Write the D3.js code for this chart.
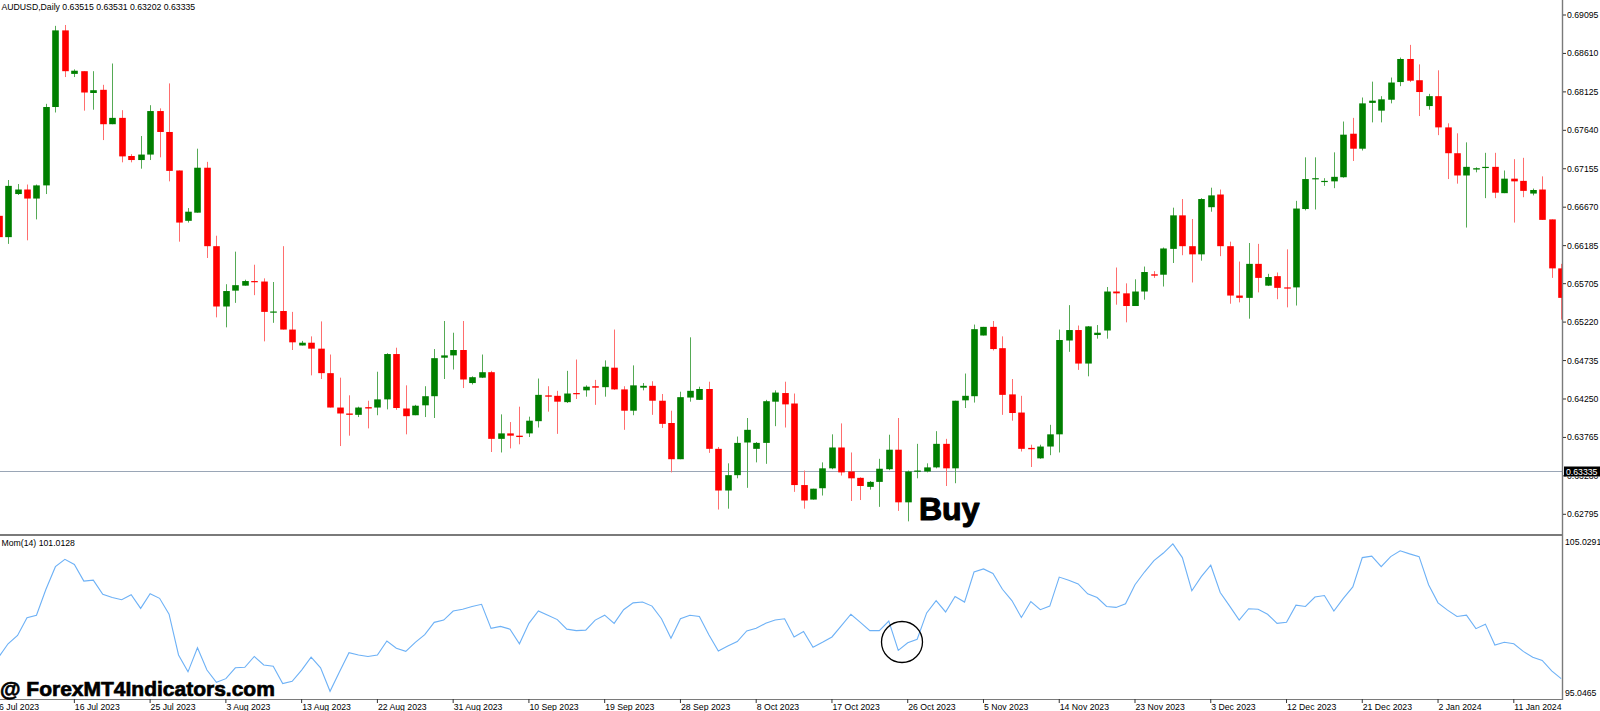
<!DOCTYPE html>
<html><head><meta charset="utf-8">
<script src="https://cdn.jsdelivr.net/npm/d3@7"></script>
<style>
body{margin:0;background:#fff;overflow:hidden}
svg{display:block}
text{font-family:"Liberation Sans",Arial,sans-serif}
</style>
</head><body>
<svg id="c" width="1600" height="711"></svg>
<script>
// ---------------- DATA ----------------
const header = "AUDUSD,Daily  0.63515 0.63531 0.63202 0.63335";
const momLabel = "Mom(14) 101.0128";
const dateLabels = ["6 Jul 2023","16 Jul 2023","25 Jul 2023","3 Aug 2023","13 Aug 2023","22 Aug 2023","31 Aug 2023","10 Sep 2023","19 Sep 2023","28 Sep 2023","8 Oct 2023","17 Oct 2023","26 Oct 2023","5 Nov 2023","14 Nov 2023","23 Nov 2023","3 Dec 2023","12 Dec 2023","21 Dec 2023","2 Jan 2024","11 Jan 2024"];
const labelEvery = 8; // bars between date labels
const priceTicks = [0.69095,0.68610,0.68125,0.67640,0.67155,0.66670,0.66185,0.65705,0.65220,0.64735,0.64250,0.63765,0.63280,0.62795];
const currentPrice = 0.63335;
const momAxisLabels = [105.0291, 95.0465];

const open = [
0.66561,0.66292,0.66836,0.66893,0.66779,0.66945,0.67934,0.68901,0.68352,0.68386,
0.68111,0.68151,0.67717,0.67797,0.67316,0.67265,0.67334,0.67883,0.67619,0.67133,
0.66498,0.66601,0.67168,0.66178,0.65417,0.65617,0.65680,0.65738,0.65732,0.65343,
0.65360,0.65126,0.64925,0.64960,0.64885,0.64576,0.64142,0.64067,0.64050,0.64147,
0.64142,0.64245,0.64817,0.64130,0.64045,0.64170,0.64285,0.64771,0.64800,0.64868,
0.64451,0.64519,0.64588,0.63747,0.63816,0.63787,0.63816,0.63970,0.64296,0.64290,
0.64210,0.64325,0.64359,0.64411,0.64399,0.64645,0.64371,0.64102,0.64393,0.64416,
0.64228,0.63947,0.63490,0.64268,0.64239,0.64376,0.63621,0.63095,0.63289,0.63701,
0.63621,0.63696,0.64216,0.64325,0.64193,0.63164,0.62981,0.63124,0.63375,0.63638,
0.63335,0.63255,0.63141,0.63204,0.63364,0.63610,0.62946,0.63335,0.63335,0.63387,
0.63684,0.63375,0.64233,0.64285,0.65051,0.65160,0.64891,0.64308,0.64079,0.63633,
0.63501,0.63650,0.63804,0.64988,0.65120,0.64697,0.65057,0.65114,0.65606,0.65583,
0.65423,0.65606,0.65823,0.65818,0.66144,0.66567,0.66178,0.66075,0.66670,0.66830,
0.66178,0.65555,0.65526,0.65955,0.65680,0.65800,0.65658,0.65658,0.66647,0.67025,
0.66990,0.66996,0.67048,0.67597,0.67408,0.67986,0.67888,0.68026,0.68249,0.68540,
0.68272,0.67946,0.68071,0.67677,0.67351,0.67070,0.67145,0.67168,0.67179,0.66847,
0.67030,0.67002,0.66842,0.66893,0.66516,0.65898];

const high = [
0.66596,0.67013,0.66962,0.66956,0.66956,0.67974,0.68958,0.68969,0.68409,0.68386,
0.68386,0.68214,0.68483,0.67894,0.67339,0.67568,0.67957,0.67917,0.68232,0.67133,
0.66659,0.67408,0.67242,0.66310,0.65698,0.66109,0.65755,0.65944,0.65772,0.65726,
0.66178,0.65349,0.64983,0.65040,0.65229,0.64811,0.64519,0.64296,0.64153,0.64228,
0.64594,0.64828,0.64897,0.64422,0.64176,0.64411,0.64880,0.65234,0.65086,0.65234,
0.64536,0.64811,0.64605,0.64056,0.63959,0.64153,0.64027,0.64508,0.64411,0.64353,
0.64605,0.64748,0.64422,0.64491,0.64737,0.65126,0.64411,0.64674,0.64451,0.64474,
0.64313,0.64102,0.64342,0.65028,0.64405,0.64468,0.63644,0.63438,0.63776,0.64010,
0.63707,0.64239,0.64359,0.64468,0.64319,0.63347,0.63118,0.63450,0.63804,0.63942,
0.63575,0.63261,0.63215,0.63495,0.63799,0.64010,0.63347,0.63684,0.63438,0.63844,
0.63747,0.64228,0.64571,0.65189,0.65160,0.65234,0.65040,0.64502,0.64290,0.63673,
0.63673,0.63924,0.65126,0.65434,0.65177,0.65171,0.65183,0.65663,0.65909,0.65709,
0.65760,0.65921,0.65863,0.66161,0.66664,0.66773,0.66521,0.66784,0.66916,0.66893,
0.66235,0.65984,0.66218,0.66207,0.65829,0.65846,0.66138,0.66750,0.67299,0.67299,
0.67036,0.67362,0.67751,0.67797,0.68054,0.68254,0.68071,0.68306,0.68558,0.68718,
0.68472,0.68100,0.68397,0.67728,0.67602,0.67488,0.67173,0.67356,0.67356,0.67133,
0.67276,0.67293,0.66905,0.67059,0.66516,0.65955];

const low = [
0.66281,0.66207,0.66824,0.66252,0.66516,0.66836,0.67865,0.68312,0.68312,0.67888,
0.67900,0.67517,0.67717,0.67236,0.67236,0.67156,0.67265,0.67299,0.66996,0.66235,
0.66476,0.66601,0.66029,0.65280,0.65154,0.65463,0.65680,0.65560,0.64977,0.65211,
0.65126,0.64868,0.64925,0.64548,0.64502,0.64142,0.63656,0.63787,0.64022,0.63879,
0.64045,0.64119,0.64113,0.63804,0.64045,0.64022,0.64010,0.64502,0.64622,0.64388,
0.64433,0.64514,0.63581,0.63575,0.63627,0.63678,0.63770,0.63890,0.64090,0.63810,
0.64199,0.64250,0.64279,0.64176,0.64279,0.64365,0.63861,0.64045,0.64359,0.64050,
0.63884,0.63324,0.63490,0.64216,0.64239,0.63570,0.62855,0.62866,0.63249,0.63129,
0.63450,0.63432,0.63907,0.63890,0.63078,0.62866,0.62981,0.63032,0.63364,0.63284,
0.62963,0.62975,0.63106,0.62889,0.63352,0.62838,0.62706,0.63249,0.63324,0.63375,
0.63152,0.63187,0.64136,0.64205,0.65051,0.64862,0.64050,0.63976,0.63587,0.63392,
0.63495,0.63541,0.63575,0.64845,0.64617,0.64536,0.65011,0.65011,0.65440,0.65217,
0.65423,0.65503,0.65778,0.65669,0.65966,0.66064,0.65720,0.65995,0.66613,0.66052,
0.65452,0.65469,0.65263,0.65595,0.65675,0.65509,0.65406,0.65429,0.66630,0.66641,
0.66939,0.66910,0.67042,0.67253,0.67385,0.67740,0.67740,0.67980,0.68197,0.68249,
0.67820,0.67900,0.67579,0.67025,0.66967,0.66413,0.67110,0.66784,0.66784,0.66847,
0.66476,0.66796,0.66819,0.66510,0.65778,0.65251];

const close = [
0.66292,0.66939,0.66893,0.66779,0.66945,0.67934,0.68901,0.68386,0.68392,0.68117,
0.68146,0.67717,0.67797,0.67311,0.67265,0.67334,0.67883,0.67619,0.67128,0.66476,
0.66613,0.67168,0.66178,0.65417,0.65612,0.65686,0.65738,0.65732,0.65349,0.65354,
0.65126,0.64965,0.64960,0.64885,0.64576,0.64142,0.64067,0.64050,0.64142,0.64130,
0.64245,0.64817,0.64136,0.64033,0.64165,0.64285,0.64765,0.64800,0.64868,0.64496,
0.64525,0.64588,0.63747,0.63816,0.63787,0.63770,0.63976,0.64302,0.64279,0.64216,
0.64319,0.64313,0.64405,0.64393,0.64657,0.64371,0.64102,0.64422,0.64416,0.64228,
0.63936,0.63490,0.64273,0.64353,0.64376,0.63621,0.63095,0.63289,0.63696,0.63861,
0.63696,0.64222,0.64331,0.64182,0.63164,0.62969,0.63118,0.63375,0.63638,0.63324,
0.63249,0.63152,0.63204,0.63370,0.63610,0.62946,0.63335,0.63347,0.63387,0.63684,
0.63375,0.64228,0.64290,0.65131,0.65160,0.64880,0.64302,0.64073,0.63621,0.63616,
0.63650,0.63804,0.64994,0.65120,0.64697,0.65166,0.65086,0.65606,0.65583,0.65423,
0.65606,0.65852,0.65806,0.66149,0.66567,0.66178,0.66075,0.66773,0.66819,0.66178,
0.65555,0.65526,0.65955,0.65778,0.65789,0.65652,0.65646,0.66653,0.67025,0.67036,
0.67002,0.67053,0.67585,0.67408,0.67980,0.68014,0.68031,0.68243,0.68540,0.68266,
0.68123,0.68071,0.67677,0.67351,0.67070,0.67179,0.67162,0.67179,0.66853,0.67030,
0.66996,0.66876,0.66887,0.66510,0.65898,0.65526];

const momentum = [
97.62,98.45,98.96,100.05,100.21,101.81,103.20,103.65,103.34,102.31,
102.37,101.50,101.30,101.16,101.47,100.63,101.53,101.25,100.27,97.76,
96.72,98.20,96.83,96.08,96.30,96.97,97.00,97.67,97.14,97.06,
96.00,96.14,96.83,97.62,96.97,95.52,96.72,97.90,97.76,97.67,
97.76,98.62,98.18,97.98,98.54,99.01,99.77,99.91,100.47,100.58,
100.75,100.88,99.40,99.52,99.35,98.45,99.71,100.47,100.21,99.94,
99.35,99.26,99.29,99.91,100.21,99.71,100.55,100.97,101.02,100.77,
99.99,98.79,99.99,100.21,100.13,99.01,98.01,98.31,98.59,99.24,
99.40,99.71,99.91,99.99,98.87,99.21,98.23,98.54,98.87,99.57,
100.27,99.77,99.26,99.26,99.85,98.04,98.51,98.73,100.35,101.11,
100.41,101.36,101.02,102.87,103.06,102.78,101.81,101.11,100.07,101.05,
100.55,100.77,102.56,102.37,102.14,101.53,101.30,100.75,100.69,100.91,
102.09,102.87,103.57,104.04,104.60,103.76,101.72,102.59,103.29,101.61,
100.77,99.91,100.61,100.58,100.27,99.71,99.77,100.83,100.75,101.33,
101.42,100.47,101.25,101.95,103.76,103.85,103.20,103.82,104.18,103.99,
103.82,102.09,100.97,100.52,100.13,100.21,99.38,99.66,98.37,98.54,
98.45,97.98,97.62,97.42,96.78,96.30];

// ---------------- LAYOUT ----------------
const axisX = 1562, sepY = 535, momTop = 537, momBottom = 699;
const svg = d3.select("#c");
const x = d3.scaleLinear().domain([0, 160]).range([-1.4, 1513.8]);
const y = d3.scaleLinear().domain([0.62795, 0.69095]).range([514.3, 15]);
const ym = d3.scaleLinear().domain([momAxisLabels[1], momAxisLabels[0]]).range([momBottom, momTop]);
const FS = 8.7;

const defs = svg.append("defs");
defs.append("clipPath").attr("id","cp1").append("rect").attr("x",0).attr("y",0).attr("width",axisX).attr("height",sepY-1);
defs.append("clipPath").attr("id","cp2").append("rect").attr("x",0).attr("y",momTop).attr("width",axisX).attr("height",momBottom-momTop);
// the hidden tick label is only visible below the current-price box
defs.append("clipPath").attr("id","cp3").append("rect").attr("x",axisX).attr("y",y(currentPrice)+5).attr("width",40).attr("height",10);

// current price line
svg.append("line").attr("x1",0).attr("x2",axisX).attr("y1",y(currentPrice)).attr("y2",y(currentPrice))
  .attr("stroke","#9aa6b6").attr("stroke-width",1);

// candles
const bars = d3.range(open.length).map(i => ({i, o:open[i], h:high[i], l:low[i], c:close[i]}));
const gC = svg.append("g").attr("clip-path","url(#cp1)");
const bw = 6.6;
gC.selectAll("line.w").data(bars).join("line").attr("class","w")
  .attr("x1",d=>Math.round(x(d.i))+0.5).attr("x2",d=>Math.round(x(d.i))+0.5)
  .attr("y1",d=>y(d.h)).attr("y2",d=>y(d.l))
  .attr("stroke",d=>d.c>=d.o?"#55aa55":"#ff6e6e").attr("stroke-width",1);
gC.selectAll("rect.b").data(bars).join("rect").attr("class","b")
  .attr("x",d=>Math.round(x(d.i))+0.5-bw/2).attr("width",bw)
  .attr("y",d=>Math.min(y(d.o),y(d.c)))
  .attr("height",d=>Math.max(1.2,Math.abs(y(d.o)-y(d.c))))
  .attr("fill",d=>d.c>=d.o?"#007f00":"#ff0000");

// frame lines
svg.append("line").attr("x1",axisX+0.5).attr("x2",axisX+0.5).attr("y1",0).attr("y2",momBottom+1).attr("stroke","#7a7a7a").attr("stroke-width",1.4);
svg.append("line").attr("x1",0).attr("x2",axisX).attr("y1",sepY).attr("y2",sepY).attr("stroke","#7a7a7a").attr("stroke-width",2.2);
svg.append("line").attr("x1",0).attr("x2",axisX+1).attr("y1",momBottom+0.5).attr("y2",momBottom+0.5).attr("stroke","#7a7a7a").attr("stroke-width",1.2);

// price axis
const gP = svg.append("g");
priceTicks.forEach(p => {
  const hidden = Math.abs(y(p) - y(currentPrice)) < 10;
  gP.append("line").attr("x1",axisX+1).attr("x2",axisX+4).attr("y1",y(p)).attr("y2",y(p)).attr("stroke","#333");
  gP.append("text").attr("x",axisX+5).attr("y",y(p)).attr("dominant-baseline","central")
    .attr("clip-path", hidden ? "url(#cp3)" : null)
    .attr("font-size",FS).attr("fill","#000").text(p.toFixed(5));
});
// current price box
gP.append("rect").attr("x",axisX+2).attr("y",y(currentPrice)-5).attr("width",38).attr("height",10).attr("fill","#000");
gP.append("text").attr("x",axisX+4).attr("y",y(currentPrice)).attr("dominant-baseline","central")
  .attr("font-size",FS).attr("fill","#fff").text(currentPrice.toFixed(5));

// momentum
const gM = svg.append("g").attr("clip-path","url(#cp2)");
gM.append("path").datum(momentum)
  .attr("d", d3.line().x((v,i)=>x(i)).y(v=>ym(v)))
  .attr("fill","none").attr("stroke","#6db1f6").attr("stroke-width",1.1);
svg.append("text").attr("x",axisX+3).attr("y",542).attr("dominant-baseline","central")
  .attr("font-size",FS).attr("fill","#000").text(momAxisLabels[0].toFixed(4));
svg.append("text").attr("x",axisX+3).attr("y",693.3).attr("dominant-baseline","central")
  .attr("font-size",FS).attr("fill","#000").text(momAxisLabels[1].toFixed(4));

// date axis
dateLabels.forEach((lab,k) => {
  const xi = x(k*labelEvery);
  svg.append("line").attr("x1",xi).attr("x2",xi).attr("y1",momBottom).attr("y2",momBottom+4).attr("stroke","#333");
  svg.append("text").attr("x",xi+0.5).attr("y",706.5).attr("dominant-baseline","central")
    .attr("font-size",FS).attr("fill","#000").text(lab);
});

// header texts
svg.append("text").attr("x",1.5).attr("y",6.5).attr("dominant-baseline","central")
  .attr("font-size",FS).attr("fill","#000").text(header);
svg.append("text").attr("x",1.5).attr("y",543).attr("dominant-baseline","central")
  .attr("font-size",FS).attr("fill","#000").text(momLabel);

// annotations
svg.append("text").attr("x",919).attr("y",520.4).attr("font-family","'DejaVu Sans',sans-serif")
  .attr("font-weight","bold").attr("font-size",32).attr("fill","#000")
  .attr("stroke","#000").attr("stroke-width",1.1).attr("stroke-linejoin","round").text("Buy");
svg.append("circle").attr("cx",902).attr("cy",642).attr("r",20.5)
  .attr("fill","none").attr("stroke","#000").attr("stroke-width",1.3);
svg.append("text").attr("x",0).attr("y",696).attr("font-weight","bold").attr("font-size",21)
  .attr("fill","#000").attr("stroke","#000").attr("stroke-width",0.7).text("@ ForexMT4Indicators.com");
</script>
</body></html>
